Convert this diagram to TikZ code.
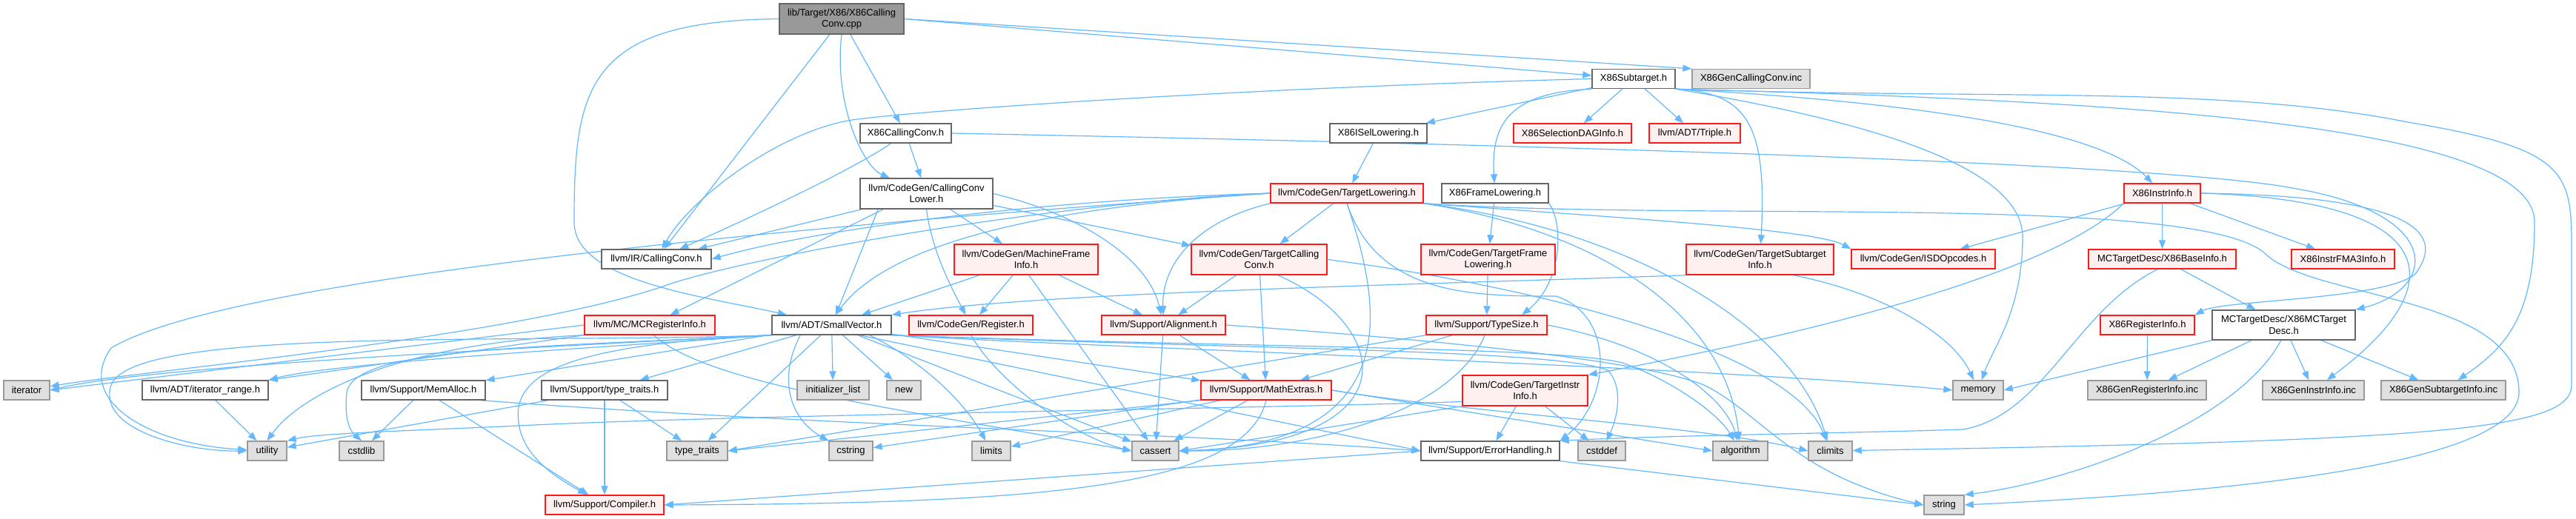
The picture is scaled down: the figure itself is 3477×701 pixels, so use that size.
\documentclass[tikz,border=0pt]{standalone}
\usepackage{fontspec}
\setmainfont{Liberation Sans}
\usetikzlibrary{arrows.meta}
\definecolor{edgeblue}{HTML}{63B8FF}
\definecolor{redborder}{HTML}{FF1A1A}
\definecolor{redfill}{HTML}{FFF0F0}
\definecolor{greyfill}{HTML}{E0E0E0}
\definecolor{greyborder}{HTML}{999999}
\definecolor{whiteborder}{HTML}{666666}
\definecolor{rootfill}{HTML}{999999}
\pgfdeclarelayer{bg}
\pgfdeclarelayer{canvas}
\pgfsetlayers{canvas,bg,main}
\tikzset{
  nbase/.style={draw, line width=1.4pt, inner sep=0pt, align=center, minimum height=26pt, text=black},
  wb/.style={nbase, draw=whiteborder, fill=white},
  rb/.style={nbase, draw=redborder, fill=redfill},
  gb/.style={nbase, draw=greyborder, fill=greyfill},
  rootb/.style={nbase, draw=whiteborder, fill=rootfill},
  edg/.style={draw=edgeblue, line width=1.2pt, -{Triangle[length=12pt,width=9pt]}},
}
\begin{document}
\begin{tikzpicture}[x=1pt,y=-1pt,font=\fontsize{13}{15.5}\selectfont]
\begin{pgfonlayer}{canvas}
\fill[white] (0,0) rectangle (3477,701);
\end{pgfonlayer}
\useasboundingbox (0,0) rectangle (3477,701);
% ---------------- nodes ----------------
\node[rootb, minimum width=168pt, minimum height=41pt] (root) at (1136,25.5) {lib/Target/X86/X86Calling\\Conv.cpp};
\node[wb, minimum width=112pt] (sub) at (2205,106.5) {X86Subtarget.h};
\node[gb, minimum width=159pt] (gencc) at (2363.5,106.5) {X86GenCallingConv.inc};
\node[wb, minimum width=123pt] (x86cc) at (1222.5,180) {X86CallingConv.h};
\node[wb, minimum width=131pt] (isel) at (1860.5,180) {X86ISelLowering.h};
\node[rb, minimum width=159pt] (sdag) at (2122.5,180) {X86SelectionDAGInfo.h};
\node[rb, minimum width=123pt] (triple) at (2287.5,180) {llvm/ADT/Triple.h};
\node[rb, minimum width=103pt] (instr) at (2918.5,261) {X86InstrInfo.h};
\node[wb, minimum width=179pt, minimum height=41pt] (ccl) at (1250.5,261.5) {llvm/CodeGen/CallingConv\\Lower.h};
\node[rb, minimum width=206pt] (tl) at (1818,261) {llvm/CodeGen/TargetLowering.h};
\node[wb, minimum width=144pt] (xfl) at (2018,261) {X86FrameLowering.h};
\node[wb, minimum width=148pt] (ircc) at (886,350) {llvm/IR/CallingConv.h};
\node[rb, minimum width=194pt, minimum height=41pt] (mfi) at (1385,350.5) {llvm/CodeGen/MachineFrame\\Info.h};
\node[rb, minimum width=183pt, minimum height=41pt] (tcc) at (1699.5,350.5) {llvm/CodeGen/TargetCalling\\Conv.h};
\node[rb, minimum width=181pt, minimum height=41pt] (tfl) at (2008.5,350.5) {llvm/CodeGen/TargetFrame\\Lowering.h};
\node[rb, minimum width=199pt, minimum height=41pt] (tsi) at (2375.5,350.5) {llvm/CodeGen/TargetSubtarget\\Info.h};
\node[rb, minimum width=194pt] (isd) at (2596,350) {llvm/CodeGen/ISDOpcodes.h};
\node[rb, minimum width=199pt] (base) at (2918.5,350) {MCTargetDesc/X86BaseInfo.h};
\node[rb, minimum width=139pt] (fma) at (3162.5,350) {X86InstrFMA3Info.h};
\node[rb, minimum width=176pt] (mcri) at (877,439) {llvm/MC/MCRegisterInfo.h};
\node[wb, minimum width=161pt] (sv) at (1122.5,439) {llvm/ADT/SmallVector.h};
\node[rb, minimum width=167pt] (reg) at (1310.5,439) {llvm/CodeGen/Register.h};
\node[rb, minimum width=167pt] (align) at (1570.5,439) {llvm/Support/Alignment.h};
\node[rb, minimum width=163pt] (ts) at (2006.5,439) {llvm/Support/TypeSize.h};
\node[rb, minimum width=127pt] (xri) at (2898.5,439) {X86RegisterInfo.h};
\node[wb, minimum width=193pt, minimum height=40pt] (mctd) at (3082.5,439) {MCTargetDesc/X86MCTarget\\Desc.h};
\node[gb, minimum width=62pt] (iter) at (36,527) {iterator};
\node[wb, minimum width=170pt] (ir) at (277,527) {llvm/ADT/iterator\_range.h};
\node[wb, minimum width=167pt] (mem) at (571.5,527) {llvm/Support/MemAlloc.h};
\node[wb, minimum width=170pt] (tth) at (816,527) {llvm/Support/type\_traits.h};
\node[gb, minimum width=97pt] (il) at (1124.5,527) {initializer\_list};
\node[gb, minimum width=46pt] (new) at (1220,527) {new};
\node[rb, minimum width=176pt] (me) at (1709,527) {llvm/Support/MathExtras.h};
\node[rb, minimum width=169pt, minimum height=41pt] (tii) at (2058.5,527.5) {llvm/CodeGen/TargetInstr\\Info.h};
\node[gb, minimum width=68pt] (memory) at (2670,527) {memory};
\node[gb, minimum width=160pt] (gri) at (2898,527) {X86GenRegisterInfo.inc};
\node[gb, minimum width=137pt] (gii) at (3122.5,527) {X86GenInstrInfo.inc};
\node[gb, minimum width=168pt] (gsi) at (3298,527) {X86GenSubtargetInfo.inc};
\node[gb, minimum width=53pt] (util) at (360.5,609) {utility};
\node[gb, minimum width=60pt] (cstdlib) at (488,609) {cstdlib};
\node[gb, minimum width=82pt] (tt) at (941,609) {type\_traits};
\node[gb, minimum width=59pt] (cstring) at (1148.5,609) {cstring};
\node[gb, minimum width=52pt] (limits) at (1338,609) {limits};
\node[gb, minimum width=63pt] (cassert) at (1559.5,609) {cassert};
\node[wb, minimum width=187pt] (eh) at (2011.5,609) {llvm/Support/ErrorHandling.h};
\node[gb, minimum width=64pt] (cstddef) at (2162,609) {cstddef};
\node[gb, minimum width=74pt] (algo) at (2349,609) {algorithm};
\node[gb, minimum width=59pt] (climits) at (2470.5,609) {climits};
\node[rb, minimum width=160pt] (comp) at (816,682) {llvm/Support/Compiler.h};
\node[gb, minimum width=54pt] (string) at (2624,682) {string};
% ---------------- edges ----------------
\begin{pgfonlayer}{bg}
% root
\draw[edg] (root) -- (ircc);
\draw[edg] (root.west) .. controls (790,28) and (775,120) .. (775,300) .. controls (775,380) and (950,400) .. (sv);
\draw[edg] (root.south) .. controls (1125,140) and (1165,225) .. (ccl);
\draw[edg] (root) -- (x86cc);
\draw[edg] (root.east) -- (sub);
\draw[edg] (root.east) -- (gencc.north west);
% X86CallingConv.h
\draw[edg] (x86cc) .. controls (1150,230) and (1000,300) .. (ircc);
\draw[edg] (x86cc) -- (ccl);
\draw[edg] (x86cc.east) .. controls (2300,200) and (2950,225) .. (3100,255) .. controls (3300,290) and (3290,390) .. (mctd.north east);
% X86Subtarget.h
\draw[edg] (sub.west) .. controls (1700,118) and (1250,148) .. (1150,162) .. controls (1050,178) and (930,270) .. (ircc);
\draw[edg] (sub) -- (isel);
\draw[edg] (sub.south west) .. controls (2040,125) and (2012,165) .. (xfl);
\draw[edg] (sub) -- (sdag);
\draw[edg] (sub) -- (triple);
\draw[edg] (sub.south east) .. controls (2360,125) and (2385,170) .. (tsi);
\draw[edg] (sub.south east) .. controls (2500,160) and (2730,220) .. (2730,320) .. controls (2730,420) and (2690,470) .. (memory);
\draw[edg] (sub.south east) .. controls (2620,140) and (2840,180) .. (instr);
\draw[edg] (sub.south east) .. controls (2800,135) and (3421,160) .. (3421,300) .. controls (3421,430) and (3380,470) .. (gsi);
\draw[edg] (sub.south east) .. controls (2700,135) and (3000,115) .. (3250,165) .. controls (3460,200) and (3471,230) .. (3471,330) -- (3471,520) .. controls (3471,580) and (3300,595) .. (climits);
% X86ISelLowering.h
\draw[edg] (isel) -- (tl);
% X86FrameLowering.h
\draw[edg] (xfl) -- (tfl);
\draw[edg] (xfl.south east) .. controls (2110,300) and (2110,380) .. (ts.16);
\draw[edg] (tfl) -- (ts);
% CallingConvLower.h
\draw[edg] (ccl) -- (ircc);
\draw[edg] (ccl.198) -- (sv);
\draw[edg] (ccl.200) -- (mcri);
\draw[edg] (ccl.south) .. controls (1258,340) and (1285,390) .. (reg);
\draw[edg] (ccl) -- (mfi);
\draw[edg] (ccl.-10) -- (tcc);
\draw[edg] (ccl.east) .. controls (1460,290) and (1550,350) .. (align);
% TargetLowering.h
\draw[edg] (tl.west) .. controls (1400,270) and (1100,310) .. (ircc.east);
\draw[edg] (tl.west) .. controls (1400,280) and (1200,330) .. (sv.70);
\draw[edg] (tl.west) .. controls (1400,275) and (1000,350) .. (900,385) .. controls (700,455) and (200,500) .. (iter);
\draw[edg] (tl.west) .. controls (1000,310) and (300,380) .. (150,470) .. controls (100,540) and (200,600) .. (util);
\draw[edg] (tl) -- (tcc);
\draw[edg] (tl.south west) .. controls (1610,300) and (1568,360) .. (align);
\draw[edg] (tl.south) .. controls (1860,400) and (1910,600) .. (cassert.east);
\draw[edg] (tl.south) .. controls (1860,400) and (1990,400) .. (2100,400) .. controls (2180,425) and (2175,540) .. (eh.north east);
\draw[edg] (tl.south east) .. controls (2200,295) and (2450,310) .. (isd.north west);
\draw[edg] (tl.south east) .. controls (2300,300) and (2980,260) .. (3060,345) .. controls (3130,405) and (3400,400) .. (3400,530) .. controls (3400,640) and (2900,670) .. (string.east);
\draw[edg] (tl.south east) .. controls (2150,310) and (2330,420) .. (algo);
\draw[edg] (tl.south east) .. controls (2200,310) and (2420,440) .. (climits);
% MachineFrameInfo.h
\draw[edg] (mfi) -- (sv);
\draw[edg] (mfi) -- (reg);
\draw[edg] (mfi) -- (align);
\draw[edg] (mfi.-80) -- (cassert);
% TargetCallingConv.h
\draw[edg] (tcc) -- (align);
\draw[edg] (tcc) -- (me);
\draw[edg] (tcc.-40) .. controls (1880,440) and (1910,600) .. (cassert.east);
\draw[edg] (tcc.east) .. controls (2100,390) and (2420,480) .. (climits);
% Register.h
\draw[edg] (reg.south) .. controls (1350,520) and (1450,590) .. (cassert.west);
% Alignment.h
\draw[edg] (align) -- (me);
\draw[edg] (align) -- (cassert);
\draw[edg] (align.east) .. controls (2100,470) and (2250,500) .. (2300,520) .. controls (2380,560) and (2420,640) .. (string.west);
% TypeSize.h
\draw[edg] (ts) -- (me);
\draw[edg] (ts.-100) .. controls (1960,560) and (1760,610) .. (cassert.east);
\draw[edg] (ts.south west) -- (tt.east);
\draw[edg] (ts.east) .. controls (2250,470) and (2330,540) .. (algo);
% MathExtras.h
\draw[edg] (me) -- (cstring);
\draw[edg] (me) -- (limits);
\draw[edg] (me) -- (cassert);
\draw[edg] (me.south) .. controls (1680,660) and (1400,680) .. (comp.east);
\draw[edg] (me.south west) -- (tt.east);
\draw[edg] (me.east) .. controls (2000,560) and (2300,575) .. (climits.west);
\draw[edg] (me.east) -- (algo.west);
% TargetInstrInfo.h
\draw[edg] (tii) -- (eh);
\draw[edg] (tii) -- (cstddef);
\draw[edg] (tii.south west) -- (cassert.east);
\draw[edg] (tii.190) .. controls (1700,552) and (1000,560) .. (700,575) .. controls (550,582) and (430,585) .. (util.north east);
% ErrorHandling.h
\draw[edg] (eh.west) -- (comp.east);
\draw[edg] (eh.south east) -- (string.west);
% MemAlloc.h
\draw[edg] (mem) -- (cstdlib);
\draw[edg] (mem) -- (comp);
\draw[edg] (mem.-10) .. controls (1100,575) and (1600,585) .. (eh.west);
% type_traits.h
\draw[edg] (tth) -- (util);
\draw[edg] (tth) -- (tt);
\draw[edg] (tth) -- (comp);
% iterator_range.h
\draw[edg] (ir) -- (util);
% MCRegisterInfo.h
\draw[edg] (mcri.west) -- (iter.east);
\draw[edg] (mcri.south west) -- (ir.north east);
\draw[edg] (mcri.south west) .. controls (520,465) and (400,540) .. (util.north);
\draw[edg] (mcri.-70) .. controls (960,520) and (1200,550) .. (cassert.west);
% SmallVector.h
\draw[edg] (sv.south west) .. controls (700,470) and (200,495) .. (iter.east);
\draw[edg] (sv.south west) .. controls (800,470) and (450,490) .. (ir.north east);
\draw[edg] (sv) -- (mem);
\draw[edg] (sv) -- (tth);
\draw[edg] (sv) -- (il);
\draw[edg] (sv) -- (new);
\draw[edg] (sv.south west) .. controls (700,465) and (180,440) .. (150,520) .. controls (130,580) and (250,610) .. (util.west);
\draw[edg] (sv.south west) .. controls (700,470) and (480,470) .. (468,530) .. controls (465,560) and (470,580) .. (cstdlib.north);
\draw[edg] (sv) -- (tt);
\draw[edg] (sv.198) .. controls (1050,510) and (1065,565) .. (cstring.north west);
\draw[edg] (sv.south west) .. controls (780,465) and (690,500) .. (700,570) .. controls (705,620) and (760,650) .. (comp);
\draw[edg] (sv.-15) .. controls (1240,485) and (1300,540) .. (limits);
\draw[edg] (sv) -- (cassert);
\draw[edg] (sv) -- (me);
\draw[edg] (sv.-20) -- (eh.west);
\draw[edg] (sv.south east) .. controls (1500,470) and (2300,495) .. (memory.west);
\draw[edg] (sv.south east) .. controls (1700,470) and (2100,468) .. (2190,490) .. controls (2260,515) and (2320,560) .. (algo);
\draw[edg] (sv.south east) .. controls (1700,472) and (2100,472) .. (2170,500) .. controls (2190,520) and (2185,560) .. (cstddef);
% TargetSubtargetInfo.h
\draw[edg] (tsi.south west) .. controls (1900,385) and (1400,395) .. (sv.north east);
\draw[edg] (tsi.-25) .. controls (2560,400) and (2640,460) .. (memory);
% X86InstrInfo.h
\draw[edg] (instr) -- (isd);
\draw[edg] (instr.south west) .. controls (2780,360) and (2500,440) .. (tii.north east);
\draw[edg] (instr) -- (base);
\draw[edg] (instr) -- (fma);
\draw[edg] (instr.east) .. controls (3300,265) and (3290,330) .. (3260,370) .. controls (3220,405) and (3000,405) .. (xri.north east);
\draw[edg] (instr.east) .. controls (3290,270) and (3320,380) .. (gii);
% X86BaseInfo.h
\draw[edg] (base) -- (mctd);
\draw[edg] (base.-115) .. controls (2800,420) and (2760,560) .. (2650,580) .. controls (2500,585) and (2250,588) .. (eh.north east);
% X86RegisterInfo.h
\draw[edg] (xri) -- (gri);
% X86MCTargetDesc.h
\draw[edg] (mctd.south west) -- (memory.east);
\draw[edg] (mctd) -- (gri);
\draw[edg] (mctd) -- (gii);
\draw[edg] (mctd) -- (gsi);
\draw[edg] (mctd.-100) .. controls (3020,570) and (2800,650) .. (string.north east);
\end{pgfonlayer}
\end{tikzpicture}
\end{document}
